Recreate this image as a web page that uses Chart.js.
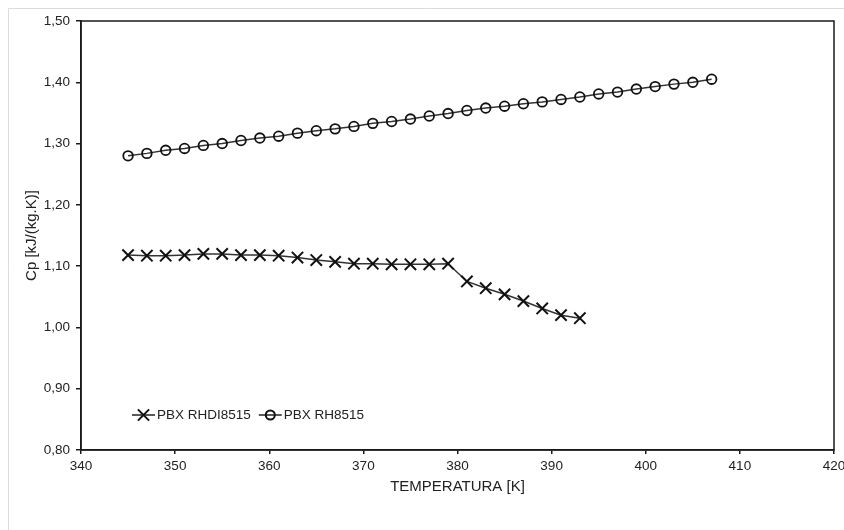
<!DOCTYPE html>
<html>
<head>
<meta charset="utf-8">
<script src="https://cdn.jsdelivr.net/npm/chart.js@4"></script>
<style>
  html, body { margin: 0; padding: 0; background: #fff; }
  #wrap { width: 844px; height: 530px; position: relative; }
</style>
</head>
<body>
<div id="wrap"><canvas id="chart" width="844" height="530"></canvas></div>
<script>
// temperatures [K]
const tempRHDI = [345, 347, 349, 351, 353, 355, 357, 359, 361, 363, 365, 367, 369,
  371, 373, 375, 377, 379, 381, 383, 385, 387, 389, 391, 393];
const cpRHDI = [1.118, 1.117, 1.117, 1.118, 1.120, 1.120, 1.118, 1.118, 1.117, 1.114, 1.110, 1.107, 1.104,
  1.104, 1.103, 1.103, 1.103, 1.104, 1.075, 1.064, 1.054, 1.043, 1.031, 1.020, 1.015];

const tempRH = [345, 347, 349, 351, 353, 355, 357, 359, 361, 363, 365, 367, 369, 371, 373, 375,
  377, 379, 381, 383, 385, 387, 389, 391, 393, 395, 397, 399, 401, 403, 405, 407];
const cpRH = [1.280, 1.284, 1.289, 1.292, 1.297, 1.300, 1.305, 1.309, 1.312, 1.317, 1.321, 1.324, 1.328, 1.333, 1.336, 1.340,
  1.345, 1.349, 1.354, 1.358, 1.361, 1.365, 1.368, 1.372, 1.376, 1.381, 1.384, 1.389, 1.393, 1.397, 1.400, 1.405];

const seriesNames = ["PBX RHDI8515", "PBX RH8515"];
const xTicks = [340, 350, 360, 370, 380, 390, 400, 410, 420];
const yTicks = [0.80, 0.90, 1.00, 1.10, 1.20, 1.30, 1.40, 1.50];

const FONT = "'Liberation Sans', Arial, sans-serif";

function pts(xs, ys) {
  return xs.map((x, i) => ({ x: x, y: ys[i] }));
}

// light frame around the picture + box around plot + legend
const decor = {
  id: "decor",
  beforeDraw(chart) {
    const ctx = chart.ctx;
    ctx.save();
    ctx.strokeStyle = "#dcdcdc";
    ctx.lineWidth = 1;
    ctx.beginPath();
    ctx.moveTo(8.5, 530);
    ctx.lineTo(8.5, 8.5);
    ctx.lineTo(844, 8.5);
    ctx.stroke();
    ctx.restore();
  },
  afterDraw(chart) {
    const ctx = chart.ctx;
    const a = chart.chartArea;
    ctx.save();
    ctx.strokeStyle = "#1a1a1a";
    ctx.lineWidth = 1.5;
    ctx.strokeRect(a.left, a.top, a.right - a.left, a.bottom - a.top);

    // legend
    const ly = a.bottom - 35;
    let lx = a.left + 51;
    ctx.font = "13.5px " + FONT;
    ctx.textBaseline = "middle";
    ctx.fillStyle = "#222";
    chart.data.datasets.forEach((ds, i) => {
      ctx.strokeStyle = "#222";
      ctx.lineWidth = 1.5;
      ctx.beginPath();
      ctx.moveTo(lx, ly);
      ctx.lineTo(lx + 23, ly);
      ctx.stroke();
      const cx = lx + 11.5;
      ctx.strokeStyle = "#111";
      ctx.lineWidth = 2;
      ctx.beginPath();
      if (i === 0) {
        const d = 5.6;
        ctx.moveTo(cx - d, ly - d); ctx.lineTo(cx + d, ly + d);
        ctx.moveTo(cx - d, ly + d); ctx.lineTo(cx + d, ly - d);
      } else {
        ctx.arc(cx, ly, 4.5, 0, Math.PI * 2);
      }
      ctx.stroke();
      ctx.fillText(ds.label, lx + 25, ly + 0.5);
      lx += 25 + ctx.measureText(ds.label).width + 8;
    });
    ctx.restore();
  }
};

new Chart(document.getElementById("chart"), {
  type: "line",
  data: {
    datasets: [
      {
        label: seriesNames[0],
        data: pts(tempRHDI, cpRHDI),
        borderColor: "#333",
        borderWidth: 1.5,
        pointStyle: "crossRot",
        pointRadius: 8,
        pointHoverRadius: 8,
        pointBorderColor: "#111",
        pointBorderWidth: 2,
        fill: false,
        tension: 0
      },
      {
        label: seriesNames[1],
        data: pts(tempRH, cpRH),
        borderColor: "#333",
        borderWidth: 1.5,
        pointStyle: "circle",
        pointRadius: 4.8,
        pointHoverRadius: 4.8,
        pointBorderColor: "#111",
        pointBackgroundColor: "rgba(0,0,0,0)",
        pointBorderWidth: 1.8,
        fill: false,
        tension: 0
      }
    ]
  },
  options: {
    responsive: false,
    animation: false,
    events: [],
    layout: { padding: { top: 21, right: 10, left: 0, bottom: 0 } },
    plugins: { legend: { display: false }, tooltip: { enabled: false } },
    scales: {
      x: {
        type: "linear",
        min: xTicks[0],
        max: xTicks[xTicks.length - 1],
        afterFit: (s) => { s.height = 80; s.paddingRight = 0; s.paddingLeft = 0; },
        afterBuildTicks: (s) => { s.ticks = xTicks.map(v => ({ value: v })); },
        grid: { drawOnChartArea: false, drawTicks: true, tickLength: 4, color: "#1a1a1a", lineWidth: 1.5 },
        border: { color: "#1a1a1a", width: 1.5 },
        ticks: { color: "#222", font: { family: FONT, size: 13.5 }, padding: 4, maxRotation: 0 },
        title: { display: true, text: "TEMPERATURA [K]", color: "#222", font: { family: FONT, size: 15 }, padding: { top: 0, bottom: 34 } }
      },
      y: {
        type: "linear",
        min: yTicks[0],
        max: yTicks[yTicks.length - 1],
        afterFit: (s) => { s.width = 81; },
        afterBuildTicks: (s) => { s.ticks = yTicks.map(v => ({ value: v })); },
        grid: { drawOnChartArea: false, drawTicks: true, tickLength: 5, color: "#1a1a1a", lineWidth: 1.5 },
        border: { color: "#1a1a1a", width: 1.5 },
        ticks: {
          color: "#222",
          font: { family: FONT, size: 13.5 },
          padding: 6,
          callback: (v) => v.toFixed(2).replace(".", ",")
        },
        title: { display: true, text: "Cp [kJ/(kg.K)]", color: "#222", font: { family: FONT, size: 15 }, padding: { top: 23, bottom: 0 } }
      }
    }
  },
  plugins: [decor]
});
</script>
</body>
</html>
